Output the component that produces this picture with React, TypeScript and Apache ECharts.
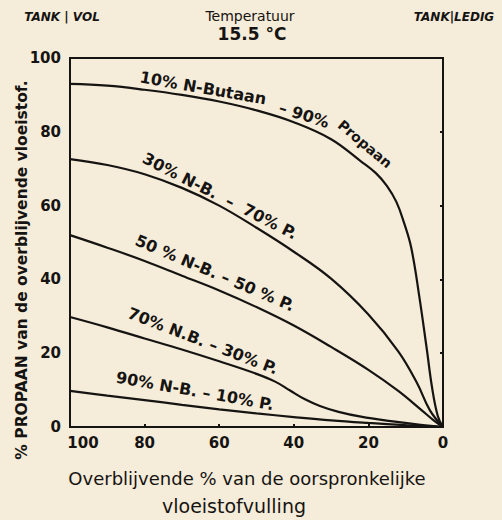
import React, { useEffect, useRef } from "react";
import * as echarts from "echarts";

const xTicks = [100, 80, 60, 40, 20, 0];
const yTicks = [0, 20, 40, 60, 80, 100];

const mix10_90 = [[100, 93], [90, 92.5], [80, 91.4], [70, 90], [60, 88.2], [50, 85.8], [40, 82.6], [30, 78], [22, 72], [18, 68.8], [15, 65.3], [12.5, 61], [10.5, 55.5], [8.5, 48.5], [6.3, 35], [4.4, 21.5], [2.9, 10.5], [1.4, 3], [0, 0]];
const mix30_70 = [[100, 72.6], [90, 71], [80, 68.5], [70, 64.8], [60, 60], [50, 54], [40, 47.5], [30, 40.2], [20, 30.5], [12, 20.5], [7, 12], [3.5, 4.5], [0, 0]];
const mix50_50 = [[100, 52], [90, 48.6], [80, 45], [70, 41], [60, 37], [50, 32.5], [40, 27.5], [30, 21.7], [20, 15.5], [12, 9.8], [6, 4.8], [2.5, 1.8], [0, 0]];
const mix70_30 = [[100, 29.8], [90, 27], [80, 24], [70, 21], [60, 17.8], [50, 14.4], [45, 12.3], [41, 9.9], [37, 7.5], [33, 5.7], [28, 4.1], [22, 2.8], [14, 1.6], [6, 0.6], [0, 0]];
const mix90_10 = [[100, 9.8], [90, 8.5], [80, 7.3], [70, 6], [60, 4.8], [50, 3.7], [40, 2.7], [30, 1.8], [20, 1.1], [10, 0.5], [0, 0]];

const seriesNames = ["10% N-Butaan – 90% Propaan", "30% N-B. – 70% P.", "50% N-B. – 50% P.", "70% N.B. – 30% P.", "90% N-B. – 10% P."];
const seriesData = [mix10_90, mix30_70, mix50_50, mix70_30, mix90_10];

const INK = "#161412";
const BG = "#f5ecd9";
const FONT = "'DejaVu Sans', sans-serif";

function label(text: string, x: number, y: number, deg: number, size = 16) {
  return {
    type: "text",
    x,
    y,
    rotation: (-deg * Math.PI) / 180,
    style: {
      text,
      fill: INK,
      font: `bold ${size}px ${FONT}`,
      align: "center",
      verticalAlign: "middle",
    },
  };
}

export default function App() {
  const ref = useRef<HTMLDivElement>(null);
  useEffect(() => {
    if (!ref.current) return;
    const chart = echarts.init(ref.current, null, { renderer: "svg" });
    chart.setOption({
      animation: false,
      backgroundColor: BG,
      grid: {
        left: 70,
        right: 59,
        top: 58,
        bottom: 93,
        show: true,
        borderColor: INK,
        borderWidth: 2,
        backgroundColor: "transparent",
      },
      xAxis: {
        type: "value",
        min: 0,
        max: 100,
        interval: 20,
        inverse: true,
        splitLine: { show: false },
        axisLine: { lineStyle: { color: INK, width: 2 } },
        axisTick: { inside: true, length: 3, lineStyle: { color: INK, width: 2 } },
        axisLabel: {
          color: INK,
          fontFamily: FONT,
          fontWeight: "bold",
          fontSize: 15,
          margin: 8,
          formatter: (v: number) => (v === 100 ? "{first|100}" : xTicks.includes(v) ? String(v) : ""),
          rich: {
            first: { padding: [0, 0, 0, 26], color: INK, fontFamily: FONT, fontWeight: "bold", fontSize: 15 },
          },
        },
      },
      yAxis: {
        type: "value",
        min: 0,
        max: 100,
        interval: 20,
        splitLine: { show: false },
        axisLine: { lineStyle: { color: INK, width: 2 } },
        axisTick: { length: 3, lineStyle: { color: INK, width: 2 } },
        axisLabel: {
          color: INK,
          fontFamily: FONT,
          fontWeight: "bold",
          fontSize: 15,
          margin: 9,
          formatter: (v: number) => (yTicks.includes(v) ? String(v) : ""),
        },
      },
      series: seriesData.map((d, i) => ({
        name: seriesNames[i],
        type: "line",
        data: d,
        showSymbol: false,
        smooth: 0.4,
        lineStyle: { color: INK, width: 2.2 },
        silent: true,
      })),
      graphic: [
        { type: "text", x: 62, y: 17, style: { text: "TANK | VOL", fill: INK, font: `italic bold 12px ${FONT}`, align: "center", verticalAlign: "middle" } },
        { type: "text", x: 250, y: 16, style: { text: "Temperatuur", fill: INK, font: `14px ${FONT}`, align: "center", verticalAlign: "middle" } },
        { type: "text", x: 252, y: 34, style: { text: "15.5 °C", fill: INK, font: `bold 17px ${FONT}`, align: "center", verticalAlign: "middle" } },
        { type: "text", x: 454, y: 17, style: { text: "TANK|LEDIG", fill: INK, font: `italic bold 12px ${FONT}`, align: "center", verticalAlign: "middle" } },
        {
          type: "text",
          x: 22,
          y: 270,
          rotation: Math.PI / 2,
          style: { text: "% PROPAAN van de overblijvende vloeistof.", fill: INK, font: `bold 15.5px ${FONT}`, align: "center", verticalAlign: "middle" },
        },
        { type: "text", x: 247, y: 478, style: { text: "Overblijvende % van de oorspronkelijke", fill: INK, font: `18px ${FONT}`, align: "center", verticalAlign: "middle" } },
        { type: "text", x: 234, y: 506, style: { text: "vloeistofvulling", fill: INK, font: `19px ${FONT}`, align: "center", verticalAlign: "middle" } },
        label("10% N-Butaan", 203, 88, 10),
        label("– 90%", 304, 115, 18),
        label("Propaan", 365, 144, 40, 14),
        label("30% N-B.  –  70% P.", 220, 196, 27),
        label("50 % N-B. – 50 % P.", 215, 273, 23),
        label("70% N.B. – 30% P.", 203, 341, 21),
        label("90% N-B. – 10% P.", 195, 391, 10),
      ],
    });
    return () => chart.dispose();
  }, []);
  return <div ref={ref} style={{ position: "absolute", left: 0, top: 0, width: 502, height: 520 }} />;
}
